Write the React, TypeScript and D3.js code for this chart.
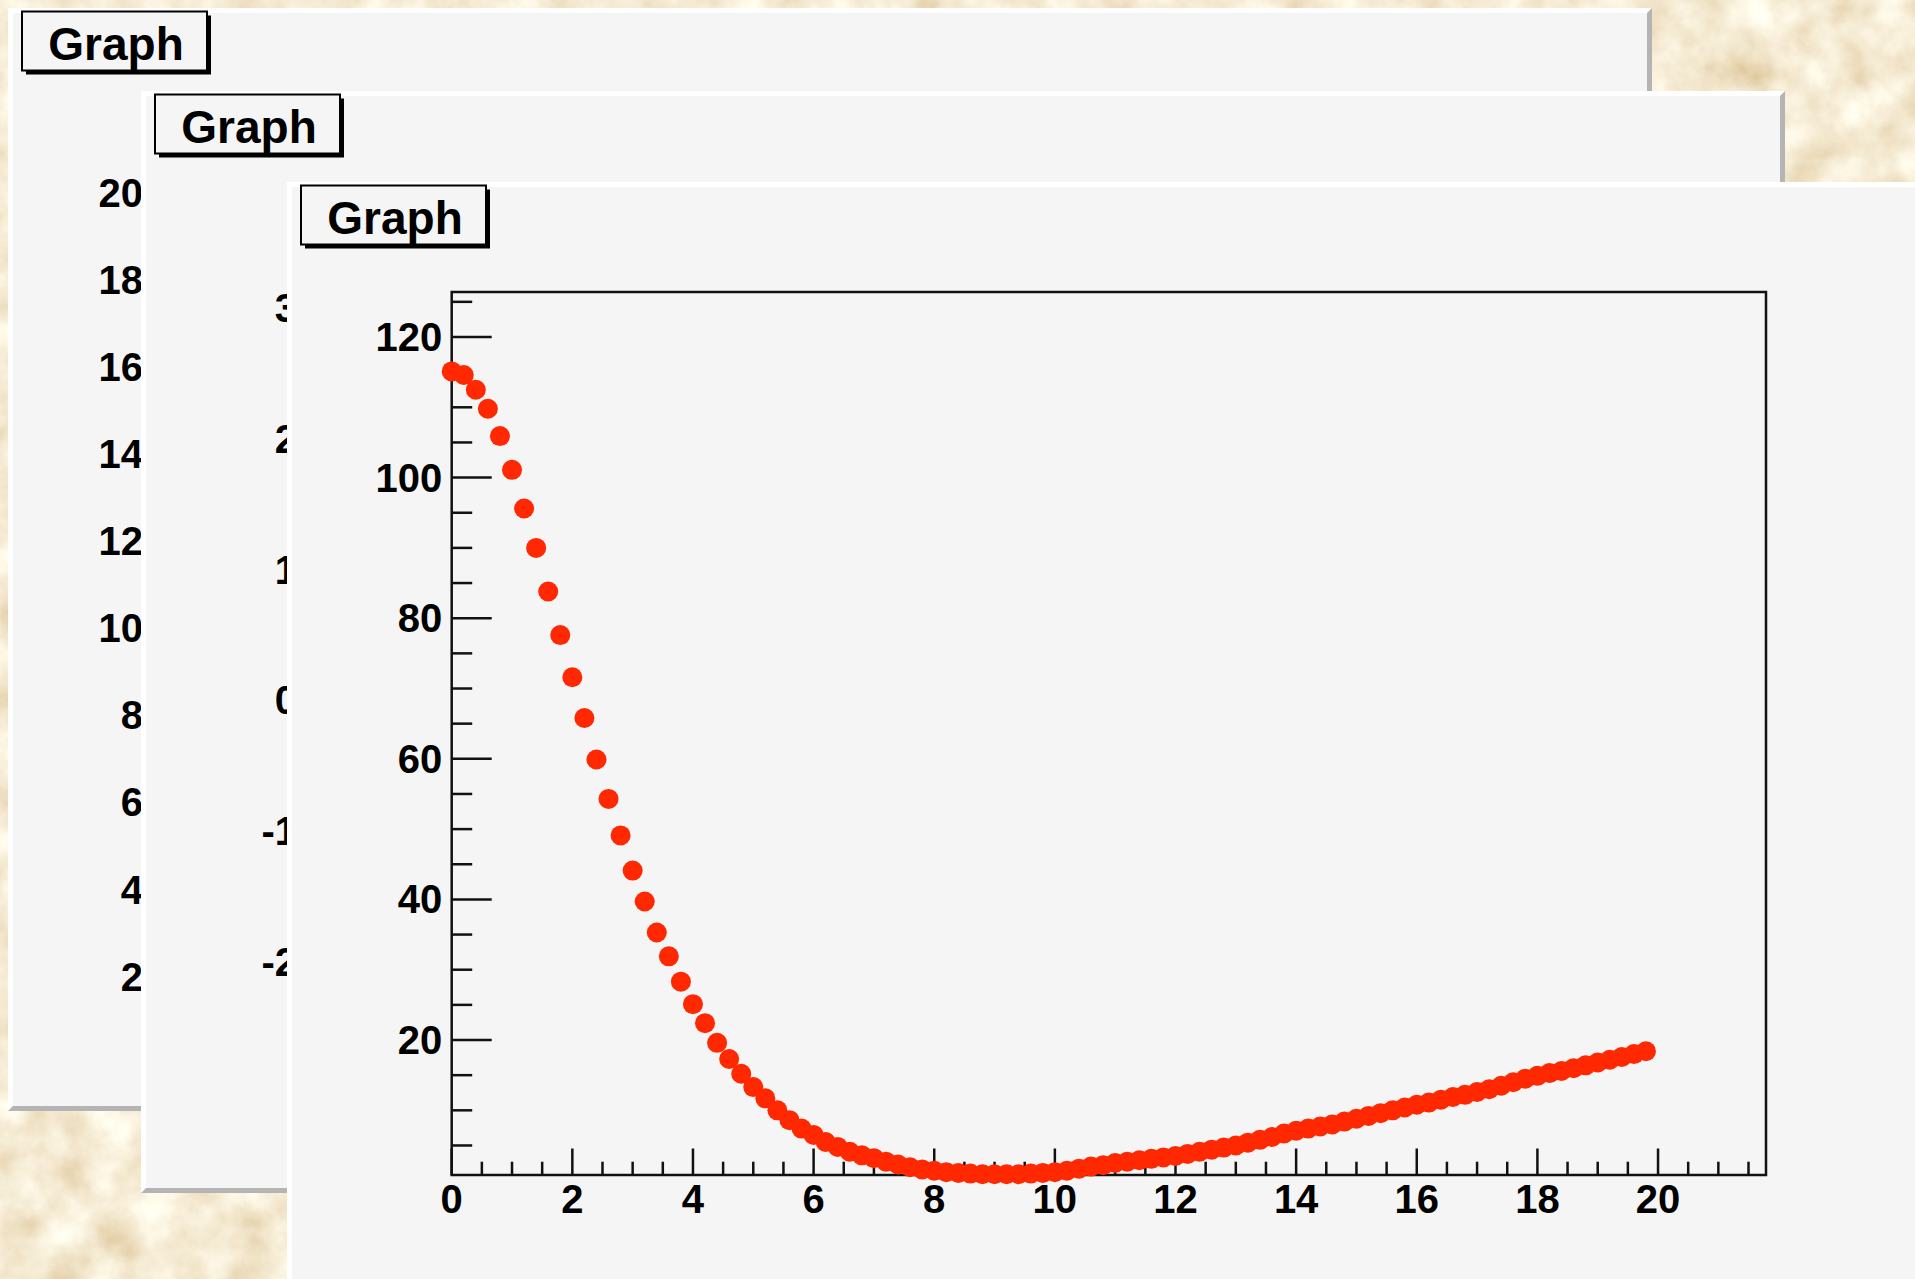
import React from "react";
import * as d3 from "d3";

// ---- data ----
const xValues = [
  0, 0.2, 0.4, 0.6, 0.8, 1, 1.2, 1.4, 1.6, 1.8,
  2, 2.2, 2.4, 2.6, 2.8, 3, 3.2, 3.4, 3.6, 3.8,
  4, 4.2, 4.4, 4.6, 4.8, 5, 5.2, 5.4, 5.6, 5.8,
  6, 6.2, 6.4, 6.6, 6.8, 7, 7.2, 7.4, 7.6, 7.8,
  8, 8.2, 8.4, 8.6, 8.8, 9, 9.2, 9.4, 9.6, 9.8,
  10, 10.2, 10.4, 10.6, 10.8, 11, 11.2, 11.4, 11.6, 11.8,
  12, 12.2, 12.4, 12.6, 12.8, 13, 13.2, 13.4, 13.6, 13.8,
  14, 14.2, 14.4, 14.6, 14.8, 15, 15.2, 15.4, 15.6, 15.8,
  16, 16.2, 16.4, 16.6, 16.8, 17, 17.2, 17.4, 17.6, 17.8,
  18, 18.2, 18.4, 18.6, 18.8, 19, 19.2, 19.4, 19.6, 19.8,
];
const yValues = [
  115.1, 114.6, 112.5, 109.8, 105.9, 101.1, 95.6, 90.0, 83.8, 77.6,
  71.6, 65.8, 59.9, 54.3, 49.1, 44.1, 39.7, 35.3, 31.9, 28.3,
  25.1, 22.4, 19.6, 17.3, 15.2, 13.3, 11.7, 10.0, 8.6, 7.4,
  6.5, 5.5, 4.8, 4.1, 3.6, 3.2, 2.7, 2.3, 1.9, 1.6,
  1.4, 1.2, 1.1, 1.0, 0.9, 0.9, 0.9, 0.9, 1.0, 1.1,
  1.2, 1.4, 1.7, 2.0, 2.2, 2.5, 2.7, 2.9, 3.1, 3.3,
  3.5, 3.8, 4.1, 4.4, 4.7, 5.0, 5.4, 5.8, 6.2, 6.7,
  7.1, 7.4, 7.7, 8.0, 8.4, 8.8, 9.2, 9.6, 10.0, 10.4,
  10.8, 11.1, 11.5, 11.9, 12.2, 12.6, 13.0, 13.5, 14.0, 14.5,
  14.9, 15.3, 15.6, 16.0, 16.4, 16.8, 17.2, 17.6, 18.0, 18.4,
];
const xTickLabels = [0, 2, 4, 6, 8, 10, 12, 14, 16, 18, 20];
const yTickLabels = [20, 40, 60, 80, 100, 120];
const backCanvas1Labels = [2, 4, 6, 8, 10, 12, 14, 16, 18, 20];
const backCanvas2Labels = [-2, -1, 0, 1, 2, 3];
const titleText = "Graph";

const W = 1915;
const H = 1279;
const FONT = "'Liberation Sans', Arial, Helvetica, sans-serif";
const MARKER = "#ff2800";
const PANEL = "#f5f5f5";

function Canvas({ x, y, w, h }: { x: number; y: number; w: number; h: number }) {
  const b = 5;
  return (
    <g>
      <rect x={x} y={y} width={w} height={h} fill={PANEL} />
      <polygon
        points={`${x},${y} ${x + w},${y} ${x + w - b},${y + b} ${x + b},${y + b} ${x + b},${y + h - b} ${x},${y + h}`}
        fill="#ffffff"
      />
      <polygon
        points={`${x + w},${y} ${x + w},${y + h} ${x},${y + h} ${x + b},${y + h - b} ${x + w - b},${y + h - b} ${x + w - b},${y + b}`}
        fill="#b4b4b4"
      />
    </g>
  );
}

function TitleBox({ ox, oy }: { ox: number; oy: number }) {
  const bx = ox + 14;
  const by = oy + 3.5;
  const bw = 185;
  const bh = 59;
  return (
    <g>
      <rect x={bx + 4} y={by + 4} width={bw} height={bh} fill="#000" />
      <rect x={bx} y={by} width={bw} height={bh} fill={PANEL} stroke="#000" strokeWidth={2} />
      <text
        x={ox + 108}
        y={oy + 52}
        textAnchor="middle"
        fontFamily={FONT}
        fontWeight="bold"
        fontSize={46}
        fill="#000"
      >
        {titleText}
      </text>
    </g>
  );
}

export default function App() {
  // canvas origins
  const c1 = { x: 8, y: 8, w: 1644, h: 1103 };
  const c2 = { x: 141, y: 91, w: 1644, h: 1102 };
  const c3 = { x: 287, y: 182, w: 1644, h: 1104 };

  // main frame
  const fx0 = 451.7, fx1 = 1766, fy0 = 292, fy1 = 1175;
  const xScale = d3.scaleLinear().domain([0, 21.79]).range([fx0, fx1]);
  const yScale = d3.scaleLinear().domain([0.8, 126.4]).range([fy1, fy0]);

  const xMinor = d3.range(1, 44).map((i) => i * 0.5).filter((v) => v % 2 !== 0 && v <= 21.7);
  const yMinor = d3.range(1, 26).map((i) => i * 5).filter((v) => v % 20 !== 0 && v <= 126);

  const c1Scale = d3.scaleLinear().domain([2, 20]).range([976.7, 192.5]);
  const c2Scale = d3.scaleLinear().domain([-2, 3]).range([962, 308]);

  const labelSize = 40;

  return (
    <svg
      width={W}
      height={H}
      style={{ position: "absolute", left: 0, top: 0, display: "block" }}
      xmlns="http://www.w3.org/2000/svg"
    >
      <defs>
        <filter id="paper" x="0" y="0" width={W} height={H} filterUnits="userSpaceOnUse">
          <feTurbulence type="fractalNoise" baseFrequency="0.022" numOctaves={6} seed={7} result="n" />
          <feColorMatrix
            in="n"
            type="matrix"
            values="0.38 0 0 0 0.725  0.55 0 0 0 0.555  0.72 0 0 0 0.295  0 0 0 0 1"
          />
        </filter>
        <clipPath id="clip1">
          <rect x={c1.x} y={c1.y} width={c1.w} height={c1.h} />
        </clipPath>
        <clipPath id="clip2">
          <rect x={c2.x} y={c2.y} width={c2.w} height={c2.h} />
        </clipPath>
      </defs>

      {/* parchment background */}
      <rect x={0} y={0} width={W} height={H} fill="#e6cfa3" />
      <rect x={0} y={0} width={W} height={H} filter="url(#paper)" />

      {/* canvas 1 */}
      <Canvas {...c1} />
      <TitleBox ox={c1.x} oy={c1.y} />
      <g clipPath="url(#clip1)">
        {backCanvas1Labels.map((v) => (
          <text
            key={"c1" + v}
            x={143}
            y={c1Scale(v) + 14}
            textAnchor="end"
            fontFamily={FONT}
            fontWeight="bold"
            fontSize={labelSize}
          >
            {v}
          </text>
        ))}
      </g>

      {/* canvas 2 */}
      <Canvas {...c2} />
      <TitleBox ox={c2.x} oy={c2.y} />
      <g clipPath="url(#clip2)">
        {backCanvas2Labels.map((v) => (
          <text
            key={"c2" + v}
            x={297}
            y={c2Scale(v) + 14}
            textAnchor="end"
            fontFamily={FONT}
            fontWeight="bold"
            fontSize={labelSize}
          >
            {v}
          </text>
        ))}
      </g>

      {/* canvas 3 */}
      <Canvas {...c3} />
      <TitleBox ox={c3.x} oy={c3.y} />

      {/* frame */}
      <rect
        x={fx0}
        y={fy0}
        width={fx1 - fx0}
        height={fy1 - fy0}
        fill="none"
        stroke="#111"
        strokeWidth={2.5}
      />

      {/* axis ticks */}
      <g stroke="#111" strokeWidth={2.5}>
        {yTickLabels.map((v) => (
          <line key={"ym" + v} x1={fx0} x2={fx0 + 40} y1={yScale(v)} y2={yScale(v)} />
        ))}
        {yMinor.map((v) => (
          <line key={"yn" + v} x1={fx0} x2={fx0 + 20.5} y1={yScale(v)} y2={yScale(v)} />
        ))}
        {xTickLabels.map((v) => (
          <line key={"xm" + v} x1={xScale(v)} x2={xScale(v)} y1={fy1} y2={fy1 - 26.5} />
        ))}
        {xMinor.map((v) => (
          <line key={"xn" + v} x1={xScale(v)} x2={xScale(v)} y1={fy1} y2={fy1 - 13.3} />
        ))}
      </g>

      {/* tick labels */}
      {yTickLabels.map((v) => (
        <text
          key={"yl" + v}
          x={fx0 - 9.5}
          y={yScale(v) + 14}
          textAnchor="end"
          fontFamily={FONT}
          fontWeight="bold"
          fontSize={labelSize}
        >
          {v}
        </text>
      ))}
      {xTickLabels.map((v) => (
        <text
          key={"xl" + v}
          x={xScale(v)}
          y={1213}
          textAnchor="middle"
          fontFamily={FONT}
          fontWeight="bold"
          fontSize={labelSize}
        >
          {v}
        </text>
      ))}

      {/* markers */}
      <g fill={MARKER}>
        {xValues.map((xv, i) => (
          <circle key={"p" + i} cx={xScale(xv)} cy={yScale(yValues[i])} r={10} />
        ))}
      </g>
    </svg>
  );
}
